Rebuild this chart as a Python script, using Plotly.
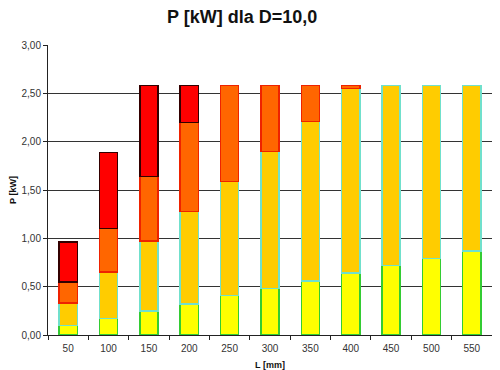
import plotly.graph_objects as go

categories = ["50", "100", "150", "200", "250", "300", "350", "400", "450", "500", "550"]
seg_yellow = [0.10, 0.17, 0.25, 0.32, 0.41, 0.48, 0.56, 0.64, 0.72, 0.79, 0.87]
seg_gold = [0.23, 0.48, 0.72, 0.96, 1.18, 1.42, 1.65, 1.91, 1.86, 1.79, 1.71]
seg_orange = [0.22, 0.45, 0.67, 0.92, 0.99, 0.68, 0.37, 0.03, None, None, None]
seg_red = [0.41, 0.79, 0.94, 0.38, None, None, None, None, None, None, None]
y_ticks = [0, 0.5, 1.0, 1.5, 2.0, 2.5, 3.0]

series = [
    (seg_yellow, "#FFFF00", "#33CC33"),
    (seg_gold, "#FFCC00", "#70E0CC"),
    (seg_orange, "#FF6600", "#EE2200"),
    (seg_red, "#FF0000", "#330000"),
]

fig = go.Figure()
for vals, fill, edge in series:
    fig.add_trace(go.Bar(
        x=categories, y=vals,
        marker=dict(color=fill, line=dict(color=edge, width=1.5)),
        showlegend=False,
    ))

font_family = "Liberation Sans, Arial, sans-serif"
fig.update_layout(
    barmode="stack",
    bargap=0.55,
    width=492, height=362,
    margin=dict(l=40, r=8, t=37, b=35, autoexpand=False),
    paper_bgcolor="white", plot_bgcolor="white",
    separators=", ",
    font=dict(family=font_family, size=10, color="#333333"),
    title=dict(text="<b>P [kW] dla D=10,0</b>", x=0.476, xanchor="center",
               y=0.975, yanchor="middle",
               font=dict(family=font_family, size=18, color="#111111")),
    xaxis=dict(
        automargin=False,
        showline=True, linecolor="#222222", linewidth=1,
        ticks="outside", ticklen=4, tickcolor="#222222",
        tickson="boundaries", showgrid=False,
        ticklabelstandoff=4,
        title=dict(text="<b>L [mm]</b>", font=dict(size=9, color="#111111"), standoff=14),
        tickfont=dict(size=10, color="#333333"),
    ),
    yaxis=dict(
        automargin=False,
        range=[0, 3], tickvals=y_ticks, tickformat=".2f",
        showline=True, linecolor="#222222", linewidth=1,
        ticks="outside", ticklen=4, tickcolor="#222222",
        showgrid=True, gridcolor="#333333", gridwidth=1,
        zeroline=False,
        title=dict(text="<b>P [kW]</b>", font=dict(size=9, color="#111111"), standoff=11),
        tickfont=dict(size=10, color="#333333"),
    ),
)

fig.write_html("out.html")
